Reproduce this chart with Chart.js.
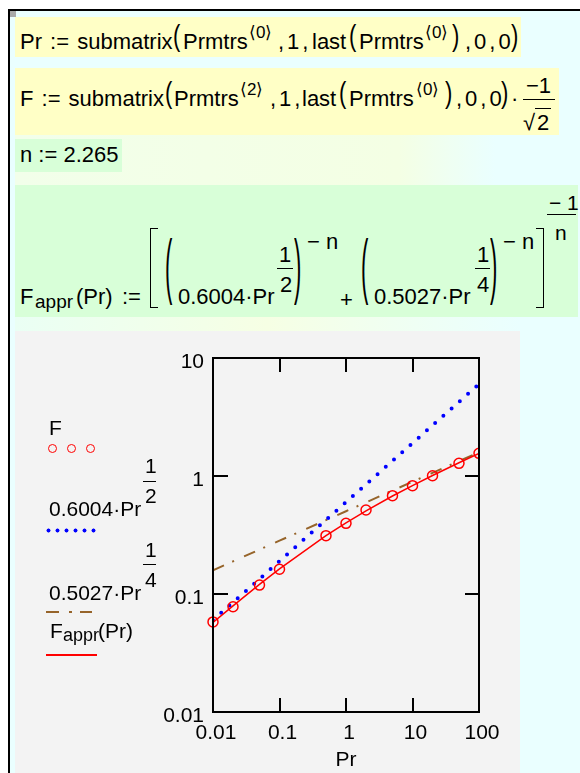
<!DOCTYPE html>
<html>
<head>
<meta charset="utf-8">
<script src="https://cdn.jsdelivr.net/npm/chart.js@4.4.1/dist/chart.umd.min.js"></script>
<style>
  body { margin: 0; width: 580px; height: 773px; overflow: hidden; position: relative; background: #fff;
         font-family: 'Liberation Sans', Arial, sans-serif; color: #000; }
  .box { position: absolute; }
  .t { position: absolute; font-size: 22px; line-height: 22px; white-space: nowrap; }
  .s { position: absolute; font-size: 17px; line-height: 17px; white-space: nowrap; }
  .l { position: absolute; font-size: 21px; line-height: 21px; white-space: nowrap; }
  .ws { word-spacing: 2px; }
  .cm { letter-spacing: 3px; }
  .p1 { transform-origin: 50% 12.9px; transform: scaleY(1.36); }
  .p3 { transform-origin: 50% 12.9px; transform: scaleY(3.25); }
  .bar { position: absolute; height: 0; border-top: 1.5px solid #000; }
  .dot { position: absolute; width: 9px; height: 9px; border: 1.5px solid #f00; border-radius: 50%; box-sizing: border-box; }
</style>
</head>
<body>
<!-- worksheet frame and region backgrounds -->
<div class="box" style="left:8px;top:9px;width:572px;height:764px;border-left:2px solid #000;border-top:2px solid #000;background:#eaffff"></div>
<div class="box" style="left:10px;top:11px;width:6px;height:6px;background:#a9a9a9"></div>
<div class="box" style="left:15px;top:17px;width:506px;height:40px;background:#ffffc6"></div>
<div class="box" style="left:15px;top:68px;width:544px;height:67px;background:#ffffc6"></div>
<div class="box" style="left:15px;top:135px;width:480px;height:50px;background:linear-gradient(to right,#f2ffea 0%,#f4ffe4 80%,#eaffff 100%)"></div>
<div class="box" style="left:15px;top:139px;width:107px;height:33px;background:#d8ffd8"></div>
<div class="box" style="left:15px;top:185px;width:563px;height:132px;background:#d8ffd8"></div>
<div class="box" style="left:15px;top:317px;width:505px;height:14px;background:linear-gradient(to right,#eafff4 0%,#f6ffe4 50%,#eaffff 100%)"></div>
<div class="box" style="left:15px;top:331px;width:505px;height:442px;background:#f3f3f3"></div>

<!-- Pr := submatrix(Prmtrs<0>, 1, last(Prmtrs<0>), 0, 0) -->
<div class="t ws" style="left:20px;top:31px">Pr := submatrix</div>
<div class="t p1" style="left:173px;top:26px">(</div>
<div class="t" style="left:183px;top:31px">Prmtrs</div>
<div class="s" style="left:249px;top:24px">⟨0⟩</div>
<div class="t cm" style="left:278px;top:31px">,1,</div>
<div class="t" style="left:312px;top:31px">last</div>
<div class="t p1" style="left:349px;top:26px">(</div>
<div class="t" style="left:359px;top:31px">Prmtrs</div>
<div class="s" style="left:425px;top:24px">⟨0⟩</div>
<div class="t p1" style="left:452px;top:26px">)</div>
<div class="t cm" style="left:465px;top:31px">,0,0</div>
<div class="t p1" style="left:511px;top:26px">)</div>

<!-- F := submatrix(Prmtrs<2>, 1, last(Prmtrs<0>), 0, 0) * -1/sqrt(2) -->
<div class="t ws" style="left:20px;top:88px">F := submatrix</div>
<div class="t p1" style="left:165px;top:83px">(</div>
<div class="t" style="left:174px;top:88px">Prmtrs</div>
<div class="s" style="left:240px;top:81px">⟨2⟩</div>
<div class="t cm" style="left:270px;top:88px">,1,</div>
<div class="t" style="left:302px;top:88px">last</div>
<div class="t p1" style="left:339px;top:83px">(</div>
<div class="t" style="left:349px;top:88px">Prmtrs</div>
<div class="s" style="left:416px;top:81px">⟨0⟩</div>
<div class="t p1" style="left:445px;top:83px">)</div>
<div class="t cm" style="left:456px;top:88px">,0,0</div>
<div class="t p1" style="left:501px;top:83px">)</div>
<div class="t" style="left:511px;top:88px">·</div>
<div class="t" style="left:526px;top:75px">−1</div>
<div class="bar" style="left:523px;top:99px;width:32px"></div>
<div class="t" style="left:523px;top:112px">√</div>
<div class="t" style="left:535px;top:108px;border-top:1.5px solid #000;padding:3px 2px 0 2px">2</div>

<!-- n := 2.265 -->
<div class="t" style="left:20px;top:144px">n := 2.265</div>

<!-- Fappr(Pr) := [(0.6004 Pr^(1/2))^-n + (0.5027 Pr^(1/4))^-n]^(-1/n) -->
<div class="t" style="left:20px;top:286px">F</div>
<div class="t" style="left:35px;top:291px;font-size:19px">appr</div>
<div class="t" style="left:76px;top:286px">(Pr)</div>
<div class="t" style="left:122px;top:286px">:=</div>
<div class="box" style="left:150px;top:228px;width:7px;height:78px;border:1.5px solid #000;border-right:none"></div>
<div class="t p3" style="left:165px;top:261px">(</div>
<div class="t" style="left:178px;top:286px">0.6004·Pr</div>
<div class="t" style="left:279px;top:244px">1</div>
<div class="bar" style="left:277px;top:268px;width:16px"></div>
<div class="t" style="left:280px;top:274px">2</div>
<div class="t p3" style="left:294px;top:261px">)</div>
<div class="t" style="left:307px;top:231px">− n</div>
<div class="t" style="left:340px;top:289px">+</div>
<div class="t p3" style="left:361px;top:261px">(</div>
<div class="t" style="left:374px;top:286px">0.5027·Pr</div>
<div class="t" style="left:477px;top:244px">1</div>
<div class="bar" style="left:475px;top:268px;width:15px"></div>
<div class="t" style="left:477px;top:274px">4</div>
<div class="t p3" style="left:490px;top:261px">)</div>
<div class="t" style="left:503px;top:231px">− n</div>
<div class="box" style="left:536px;top:228px;width:7px;height:78px;border:1.5px solid #000;border-left:none"></div>
<div class="l" style="left:549px;top:192px">− 1</div>
<div class="bar" style="left:547px;top:214px;width:29px"></div>
<div class="l" style="left:555px;top:222px">n</div>

<!-- plot -->
<canvas id="plot" width="505" height="442" style="position:absolute;left:15px;top:331px"></canvas>

<!-- trace legend -->
<div class="l" style="left:49px;top:417px">F</div>
<div class="dot" style="left:47.5px;top:443.5px"></div>
<div class="dot" style="left:66.5px;top:443.5px"></div>
<div class="dot" style="left:85.5px;top:443.5px"></div>

<div class="l" style="left:145px;top:455px">1</div>
<div class="bar" style="left:143px;top:481px;width:13px"></div>
<div class="l" style="left:145px;top:485px">2</div>
<div class="l" style="left:49px;top:498px">0.6004·Pr</div>
<div class="box" style="left:44px;top:528px;width:54px;height:5px;background:radial-gradient(circle,#00f 1.7px,transparent 2.3px) 0 0/9px 5px repeat-x"></div>

<div class="l" style="left:145px;top:539px">1</div>
<div class="bar" style="left:143px;top:564px;width:13px"></div>
<div class="l" style="left:145px;top:569px">4</div>
<div class="l" style="left:49px;top:582px">0.5027·Pr</div>
<div class="box" style="left:46px;top:611px;width:13px;height:2px;background:#96642a"></div>
<div class="box" style="left:69px;top:611px;width:3px;height:2px;background:#96642a"></div>
<div class="box" style="left:80px;top:611px;width:12px;height:2px;background:#96642a"></div>

<div class="l" style="left:50px;top:620px">F</div>
<div class="l" style="left:63px;top:625px;font-size:18px">appr</div>
<div class="l" style="left:98px;top:620px">(Pr)</div>
<div class="box" style="left:46px;top:654px;width:51px;height:1.5px;background:#f00"></div>

<script>
// Pr values of the table rows and the traces plotted against them
const prValues = [0.01, 0.02, 0.05, 0.1, 0.5, 1, 2, 5, 10, 20, 50, 100];
const fValues = [0.058, 0.078, 0.119, 0.162, 0.312, 0.397, 0.515, 0.681, 0.828, 1.006, 1.28, 1.556];
const fApprValues = [0.0573, 0.0794, 0.1206, 0.1633, 0.312, 0.401, 0.507, 0.677, 0.83, 1.01, 1.296, 1.556];
const halfPowerValues = [0.06, 0.0849, 0.134, 0.19, 0.425, 0.6, 0.849, 1.343, 1.899, 2.685, 4.246, 6.004];
const quarterPowerValues = [0.159, 0.189, 0.238, 0.283, 0.423, 0.503, 0.598, 0.752, 0.894, 1.063, 1.337, 1.59];

// axis ticks (decades only)
const xTickValues = [0.01, 0.1, 1, 10, 100];
const xTickLabels = ['0.01', '0.1', '1', '10', '100'];
const yTickValues = [0.01, 0.1, 1, 10];
const yTickLabels = ['0.01', '0.1', '1', '10'];

const FONT = { family: "'Liberation Sans', Arial, sans-serif", size: 21 };

function points(values) {
  return prValues.map((p, i) => ({ x: p, y: values[i] }));
}

// frame around the plot with inward tick marks on all four sides
const framePlugin = {
  id: 'frame',
  afterDatasetsDraw(chart) {
    const { ctx, chartArea: a, scales } = chart;
    ctx.save();
    ctx.strokeStyle = '#000';
    ctx.lineWidth = 2;
    ctx.strokeRect(a.left, a.top, a.right - a.left, a.bottom - a.top);
    ctx.beginPath();
    xTickValues.forEach((v) => {
      const x = Math.round(scales.x.getPixelForValue(v));
      ctx.moveTo(x, a.bottom); ctx.lineTo(x, a.bottom - 14);
      ctx.moveTo(x, a.top); ctx.lineTo(x, a.top + 14);
    });
    yTickValues.forEach((v) => {
      const y = Math.round(scales.y.getPixelForValue(v));
      ctx.moveTo(a.left, y); ctx.lineTo(a.left + 15, y);
      ctx.moveTo(a.right, y); ctx.lineTo(a.right - 14, y);
    });
    ctx.stroke();
    ctx.restore();
  }
};

new Chart(document.getElementById('plot'), {
  type: 'line',
  data: {
    datasets: [
      {
        label: 'F',
        data: points(fValues),
        showLine: false,
        pointRadius: 5,
        pointBorderWidth: 1.5,
        pointBorderColor: '#ff0000',
        pointBackgroundColor: 'rgba(0,0,0,0)',
        clip: { left: 8, top: 0, right: 0, bottom: 0 },
        order: 0
      },
      {
        label: 'Fappr(Pr)',
        data: points(fApprValues),
        borderColor: '#ff0000',
        borderWidth: 1.5,
        pointRadius: 0,
        order: 1
      },
      {
        label: '0.6004·Pr^(1/2)',
        data: points(halfPowerValues),
        borderColor: '#0000ff',
        borderWidth: 4,
        borderDash: [0, 11],
        borderCapStyle: 'round',
        pointRadius: 0,
        order: 2
      },
      {
        label: '0.5027·Pr^(1/4)',
        data: points(quarterPowerValues),
        borderColor: '#96642a',
        borderWidth: 2,
        borderDash: [12, 9, 2, 11],
        pointRadius: 0,
        order: 3
      }
    ]
  },
  options: {
    responsive: false,
    animation: false,
    events: [],
    layout: { padding: { top: 27, right: 41, bottom: 0, left: 0 } },
    plugins: { legend: { display: false }, tooltip: { enabled: false } },
    scales: {
      x: {
        type: 'logarithmic',
        min: 0.01,
        max: 100,
        afterBuildTicks: (s) => { s.ticks = xTickValues.map((v) => ({ value: v })); },
        afterFit: (s) => { s.height = 61; },
        grid: { display: false, drawTicks: false },
        border: { display: false },
        ticks: {
          autoSkip: false, maxRotation: 0, padding: 9, labelOffset: 3,
          color: '#000', font: FONT,
          callback: (v, i) => xTickLabels[i]
        },
        title: { display: true, text: 'Pr', color: '#000', font: FONT, padding: { top: 2, bottom: 0 } }
      },
      y: {
        type: 'logarithmic',
        min: 0.01,
        max: 10,
        afterBuildTicks: (s) => { s.ticks = yTickValues.map((v) => ({ value: v })); },
        afterFit: (s) => { s.width = 198; },
        grid: { display: false, drawTicks: false },
        border: { display: false },
        ticks: {
          autoSkip: false, padding: 9, labelOffset: 4,
          color: '#000', font: FONT,
          callback: (v, i) => yTickLabels[i]
        }
      }
    }
  },
  plugins: [framePlugin]
});
</script>
</body>
</html>
